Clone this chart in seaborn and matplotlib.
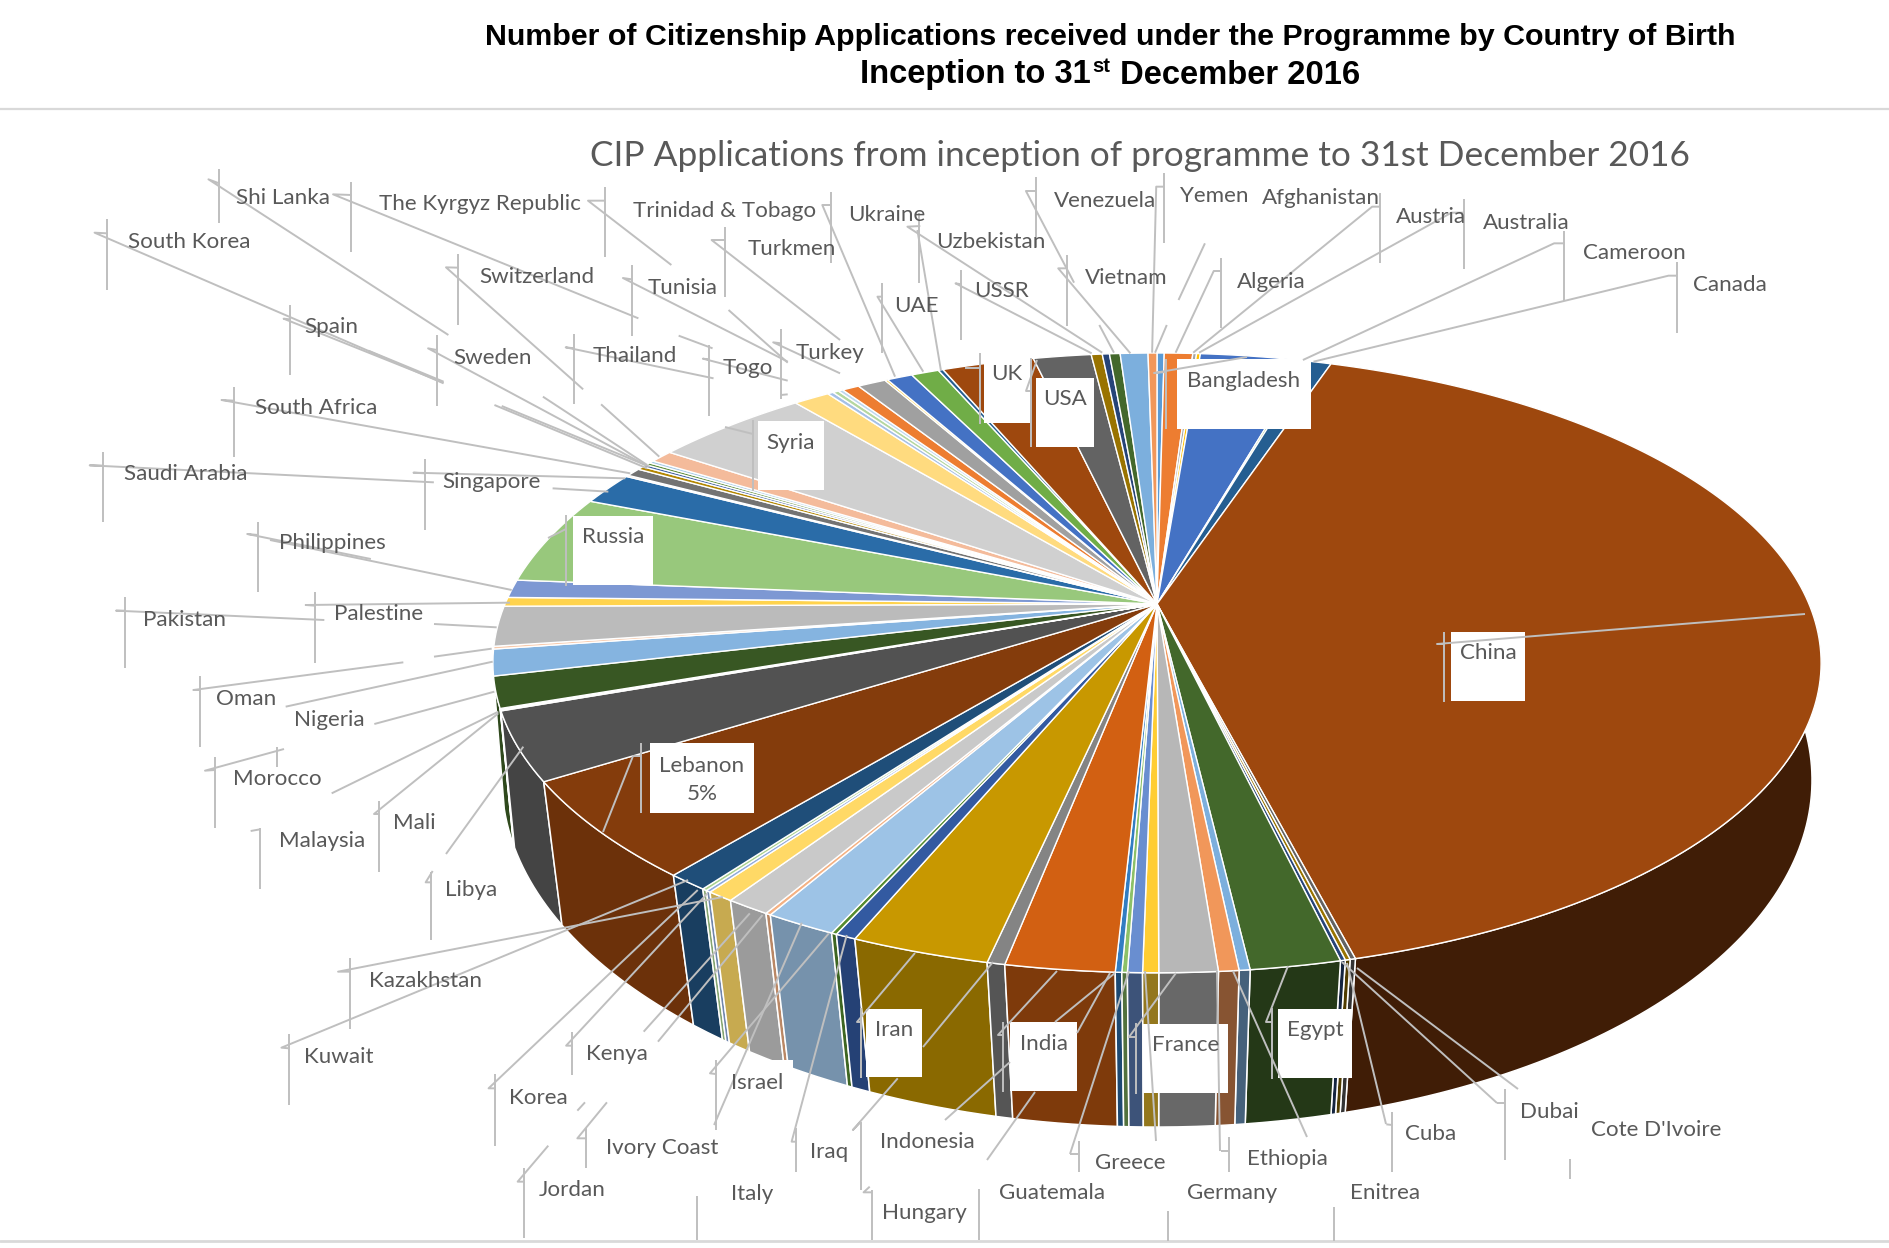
import numpy as np
import matplotlib
matplotlib.use("Agg")
import matplotlib.pyplot as plt
from matplotlib.patches import Polygon, Rectangle
import seaborn as sns

# slices clockwise from 12 o'clock, share of applications in percent
countries = ["Afghanistan", "Algeria", "Australia", "Austria", "Bangladesh", "Cameroon", "Canada", "China",
             "Cote D'Ivoire", "Cuba", "Dubai", "Egypt", "Enitrea", "Ethiopia", "France", "Germany", "Greece",
             "Guatemala", "Hungary", "India", "Indonesia", "Iran", "Iraq", "Israel", "Italy", "Ivory Coast",
             "Jordan", "Kazakhstan", "Kenya", "Korea", "Kuwait", "Lebanon", "Libya", "Malaysia", "Mali",
             "Morocco", "Nigeria", "Oman", "Pakistan", "Palestine", "Philippines", "Russia", "Saudi Arabia",
             "Shi Lanka", "Singapore", "South Africa", "South Korea", "Spain", "Sweden", "Switzerland", "Syria",
             "Thailand", "The Kyrgyz Republic", "Togo", "Trinidad & Tobago", "Tunisia", "Turkey", "Turkmen",
             "UAE", "Ukraine", "(no label)", "UK", "USA", "USSR", "Uzbekistan", "Venezuela", "Vietnam", "Yemen"]
shares = [0.21, 0.83, 0.11, 0.11, 3.11, 0.08, 0.64, 40.81,
          0.11, 0.10, 0.10, 1.83, 0.22, 0.41, 1.18, 0.32, 0.30,
          0.11, 0.13, 2.21, 0.36, 2.83, 0.42, 0.11, 1.47, 0.11,
          0.92, 0.56, 0.10, 0.10, 0.86, 5.11, 3.53, 0.06, 0.06,
          1.61, 1.36, 0.14, 2.08, 0.47, 0.94, 4.69, 1.69,
          0.08, 0.44, 0.19, 0.14, 0.14, 0.14, 0.67, 4.53,
          1.06, 0.17, 0.17, 0.14, 0.50, 0.83, 0.08,
          0.75, 0.81, 0.14, 2.69, 1.69, 0.32, 0.21, 0.31, 0.81, 0.26]
slice_colors = ["#5B9BD5", "#ED7D31", "#A5A5A5", "#FFC000", "#4472C4", "#70AD47", "#255E91", "#9E480E",
                "#636363", "#997300", "#264478", "#43682B", "#7CAFDD", "#F1975A", "#B7B7B7", "#FFCD33", "#698ED0",
                "#8CC168", "#327DC2", "#D26012", "#848484", "#C89800", "#335AA1", "#558B2F", "#9DC3E6", "#F4B183",
                "#C9C9C9", "#FFD966", "#8FAADC", "#A9D18E", "#1F4E79", "#843C0C", "#525252", "#7F6000", "#203864",
                "#385723", "#85B4E0", "#F8CBAD", "#BBBBBB", "#FFD34D", "#7D98D3", "#98C87C", "#2A6CA8",
                "#F4B183", "#737373", "#B38600", "#3F5FA0", "#5E8E3C", "#A9CCE8", "#F4BB9B", "#D0D0D0",
                "#FFDB7F", "#A5C0E6", "#B5D7A0", "#BDD7EE", "#ED7D31", "#A0A0A0", "#FFC000",
                "#4472C4", "#70AD47", "#255E91", "#9E480E", "#636363", "#997300", "#264478", "#43682B", "#7CAFDD", "#F1975A"]

main_title = "Number of Citizenship Applications received under the Programme by Country of Birth"
chart_title = "CIP Applications from inception of programme to 31st December 2016"

# labels off the pie, centres measured on the 1568 px preview
outer_labels = [("Shi Lanka", 235, 163), ("The Kyrgyz Republic", 398, 168), ("Trinidad & Tobago", 601, 173),
                ("Ukraine", 736, 177), ("Uzbekistan", 822, 199), ("Venezuela", 917, 165), ("Yemen", 1007, 161),
                ("Afghanistan", 1096, 163), ("Austria", 1187, 178), ("Australia", 1266, 183), ("Cameroon", 1356, 208),
                ("Canada", 1435, 235), ("South Korea", 157, 199), ("Switzerland", 445, 228), ("Tunisia", 566, 237),
                ("Turkmen", 657, 205), ("UAE", 760, 252), ("USSR", 831, 240), ("Vietnam", 934, 229),
                ("Algeria", 1055, 232), ("Spain", 275, 270), ("Sweden", 409, 295), ("Thailand", 527, 294),
                ("Togo", 620, 304), ("Turkey", 689, 291), ("South Africa", 262, 337), ("Saudi Arabia", 154, 392),
                ("Singapore", 408, 398), ("Philippines", 276, 449), ("Pakistan", 153, 513), ("Palestine", 314, 508),
                ("Oman", 204, 578), ("Nigeria", 273, 596), ("Morocco", 230, 645), ("Malaysia", 267, 696),
                ("Mali", 344, 681), ("Libya", 391, 737), ("Kazakhstan", 353, 812), ("Kuwait", 281, 875),
                ("Kenya", 512, 873), ("Korea", 447, 909), ("Israel", 628, 897), ("Ivory Coast", 549, 951),
                ("Jordan", 475, 986), ("Italy", 624, 989), ("Iraq", 688, 954), ("Indonesia", 769, 946),
                ("Hungary", 767, 1005), ("Guatemala", 873, 988), ("Greece", 938, 963), ("Germany", 1022, 988),
                ("Ethiopia", 1068, 960), ("Enitrea", 1149, 988), ("Cuba", 1187, 939), ("Dubai", 1285, 921),
                ("Cote D'Ivoire", 1374, 936)]
# white boxes on the pie: text, left, right, top, bottom, text y (full size px)
box_labels = [("China", 1451, 1525, 632, 701, 652), ("Lebanon\n5%", 650, 754, 743, 813, 779),
              ("Iran", 866, 922, 1009, 1077, 1029), ("India", 1010, 1077, 1022, 1091, 1043),
              ("France", 1143, 1228, 1024, 1093, 1044), ("Egypt", 1278, 1352, 1009, 1078, 1029),
              ("Syria", 758, 824, 421, 490, 442), ("Russia", 573, 653, 516, 585, 536),
              ("USA", 1036, 1094, 378, 447, 398), ("UK", 984, 1030, 353, 423, 373),
              ("Bangladesh", 1177, 1311, 359, 429, 380)]
blank_boxes = [(725, 793, 1060, 1128)]  # behind Israel

# leader lines, traced on crops: (crop x, crop y, x scale, polylines)
leader_groups = [
    (80, 160, 2.063, [
        [(287, 28), (287, 188)], [(287, 70), (265, 58), (760, 525)], [(955, 710), (1170, 915)],
        [(560, 65), (560, 275)], [(560, 105), (522, 103), (1152, 475)], [(1235, 527), (1305, 565)],
        [(1083, 80), (1083, 292)], [(1083, 122), (1048, 122), (1220, 315)], [(1338, 450), (1460, 608)],
        [(1331, 200), (1331, 410)], [(1331, 240), (1303, 240), (1568, 540)],
        [(56, 178), (56, 390)], [(56, 220), (30, 218), (750, 670)], [(855, 735), (1170, 925)], [(870, 738), (1175, 920)],
        [(433, 435), (433, 645)], [(433, 478), (420, 476), (750, 668)], [(595, 572), (750, 665)],
        [(780, 283), (780, 495)], [(780, 323), (755, 322), (1038, 688)], [(1075, 733), (1195, 890)],
        [(736, 525), (736, 737)], [(736, 570), (718, 565), (1170, 918)],
        [(1138, 315), (1138, 527)], [(1138, 358), (1120, 354), (1460, 605)],
        [(1020, 522), (1020, 733)], [(1020, 565), (1002, 562), (1307, 655)],
        [(1297, 555), (1297, 767)], [(1297, 598), (1285, 596), (1460, 662)],
        [(1446, 507), (1446, 718)], [(1446, 550), (1430, 547), (1568, 640)], [(1446, 705), (1460, 703)],
        [(318, 680), (318, 890)], [(318, 722), (292, 720), (1135, 940)],
        [(47, 875), (47, 1087)], [(47, 917), (20, 916), (730, 967)],
        [(711, 898), (711, 1110)], [(711, 940), (688, 938), (1125, 955)], [(975, 985), (1090, 995)],
        [(367, 1087), (367, 1200)], [(367, 1125), (345, 1122), (600, 1197)],
    ]),
    (800, 160, 1.704, [
        [(52, 97), (52, 308)], [(52, 135), (38, 135), (162, 650)],
        [(203, 160), (203, 370)], [(205, 198), (183, 200), (515, 578)], [(200, 210), (240, 630)],
        [(140, 370), (140, 580)], [(140, 410), (132, 410), (210, 635)],
        [(275, 330), (275, 540)], [(275, 373), (265, 370), (497, 580)],
        [(402, 52), (402, 262)], [(402, 93), (385, 93), (467, 368)],
        [(455, 285), (455, 497)], [(455, 325), (440, 325), (563, 580)], [(510, 495), (535, 578)],
        [(620, 40), (620, 250)], [(620, 80), (607, 80), (600, 578)],
        [(690, 250), (645, 420)], [(625, 495), (605, 578)],
        [(717, 293), (717, 505)], [(717, 333), (705, 333), (640, 578)],
        [(988, 100), (988, 310)], [(988, 140), (975, 140), (670, 578)],
        [(1132, 118), (1132, 328)], [(1132, 158), (1110, 158), (680, 578)],
        [(1302, 212), (1302, 422)], [(1302, 250), (1285, 250), (857, 600)],
        [(1494, 307), (1494, 518)], [(1494, 347), (1480, 347), (875, 605)],
    ]),
    (80, 540, 3, [
        [(534, 0), (534, 155)], [(570, 0), (1295, 150)],
        [(135, 170), (135, 383)], [(135, 212), (108, 212), (733, 240)],
        [(705, 155), (705, 368)], [(705, 197), (677, 195), (1290, 188)], [(1062, 252), (1250, 262)],
        [(360, 408), (360, 622)], [(360, 450), (340, 450), (970, 367)], [(1062, 350), (1235, 326)],
        [(617, 500), (1238, 365)], [(883, 552), (1243, 455)],
        [(405, 652), (405, 865)], [(405, 690), (375, 692), (612, 627)], [(591, 620), (591, 682)],
        [(755, 760), (1255, 515)],
        [(540, 865), (540, 1047)], [(540, 868), (512, 873)],
        [(897, 782), (897, 995)], [(897, 822), (882, 822), (1255, 520)],
        [(1053, 995), (1053, 1200)], [(1058, 993), (1037, 1027), (1053, 1027)], [(1098, 942), (1330, 620)],
    ]),
    (260, 900, 1.96, [
        [(335, 0), (335, 118)],
        [(176, 175), (176, 387)], [(176, 215), (153, 215), (907, -9)],
        [(57, 403), (57, 615)], [(57, 445), (42, 443), (839, -60)],
        [(612, 395), (612, 525)], [(612, 437), (600, 437), (877, -20)],
        [(461, 523), (461, 737)], [(461, 565), (448, 565), (858, -30)],
        [(752, 395), (960, 40)], [(780, 425), (985, 45)],
        [(893, 480), (893, 690)], [(893, 522), (882, 520), (1115, 100)],
        [(890, 675), (1062, 68)],
        [(622, 632), (637, 607)], [(639, 685), (639, 805)], [(639, 715), (622, 715), (680, 607)],
        [(518, 805), (518, 1015)], [(518, 845), (505, 845), (565, 737)],
        [(856, 888), (856, 1020)],
        [(1051, 685), (1051, 815)], [(1051, 725), (1042, 725), (1150, 105)],
        [(1178, 665), (1178, 870)], [(1178, 665), (1162, 690), (1250, 535)],
        [(1199, 870), (1199, 1020)], [(1199, 877), (1183, 877), (1195, 860)],
        [(1409, 868), (1409, 1020)],
    ]),
    (1000, 1000, 2.063, [
        [(162, 422), (162, 515)], [(162, 462), (145, 462)],
        [(472, 410), (472, 515)], [(472, 452), (455, 452)],
        [(347, 632), (347, 722)], [(689, 622), (689, 722)],
        [(809, 335), (809, 515)], [(809, 375), (797, 373)],
        [(1041, 268), (1041, 480)], [(1041, 308), (1025, 308)],
        [(1176, 478), (1176, 536)],
    ]),
]
# same, already in full size px
leaders_full = [
    [(1347, 963), (1386, 1124)], [(1342, 962), (1497, 1103)], [(1357, 968), (1518, 1089)],
    [(1129, 971), (1070, 1154)], [(1145, 971), (1156, 1141)], [(1233, 971), (1307, 1137)],
    [(1217, 971), (1220, 1151)], [(1110, 973), (1077, 1033)], [(1115, 973), (1055, 1022)],
    [(1444, 632), (1444, 702)], [(1444, 644), (1437, 644), (1805, 614)],
    [(861, 1008), (861, 1078)], [(861, 1022), (857, 1022), (915, 953)],
    [(1003, 1022), (1003, 1092)], [(1003, 1035), (998, 1035), (1057, 971)],
    [(1136, 1023), (1136, 1094)], [(1136, 1037), (1129, 1037), (1176, 973)],
    [(1272, 1008), (1272, 1079)], [(1272, 1022), (1266, 1022), (1288, 966)],
    [(641, 743), (641, 813)], [(641, 756), (633, 756), (603, 832)],
    [(753, 420), (753, 491)], [(753, 434), (725, 427)],
    [(566, 515), (566, 586)], [(566, 529), (548, 538)],
    [(980, 353), (980, 424)], [(980, 368), (965, 368)],
    [(1031, 358), (1031, 447)], [(1037, 360), (1026, 391), (1031, 391)],
    [(1166, 359), (1166, 429)], [(1166, 372), (1154, 373), (1247, 357)],
    [(923, 1047), (993, 962)], [(945, 1120), (1010, 1062)], [(987, 1160), (1035, 1092)],
]

SCALE = 1890 / 1568
LINE = "#BFBFBF"
TEXT = "#595959"
LABEL_SIZE = 16.1
# top face and bottom face of the disc as perspective ellipses
TOP = dict(cx=1157, cy=604, A=652, B=298.7, k=0.19)
BOTTOM = dict(cx=1157, cy=728, A=647.6, B=339.2, k=0.15)


def project(theta, face):
    u, v = np.sin(theta), np.cos(theta)
    d = 1 + face["k"] * v
    return face["cx"] + face["A"] * u / d, face["cy"] - face["B"] * v / d


def side_shade(deg):
    # side walls get lighter going clockwise round the front
    return np.interp(deg, [90, 160, 175, 187, 197, 209, 219, 230, 265],
                     [0.40, 0.50, 0.56, 0.60, 0.69, 0.76, 0.80, 0.82, 0.85])


def main():
    sns.set_theme(style="white")
    plt.rcParams["font.family"] = ["Lato", "DejaVu Sans"]
    palette = sns.color_palette(slice_colors)

    fig = plt.figure(figsize=(18.9, 12.48), dpi=100)
    ax = fig.add_axes([0, 0, 1, 1])
    ax.set_xlim(0, 1890)
    ax.set_ylim(1248, 0)
    ax.axis("off")

    edges = np.radians(np.concatenate([[0], np.cumsum(shares)]) / np.sum(shares) * 360)

    # side walls, back to front
    order = sorted(range(len(shares)), key=lambda i: -np.cos((edges[i] + edges[i + 1]) / 2))
    for i in order:
        t = np.linspace(edges[i], edges[i + 1], max(3, int((edges[i + 1] - edges[i]) * 60)))
        x1, y1 = project(t, TOP)
        x2, y2 = project(t[::-1], BOTTOM)
        shade = side_shade(np.degrees((edges[i] + edges[i + 1]) / 2))
        col = tuple(c * shade for c in palette[i])
        pts = np.column_stack([np.r_[x1, x2], np.r_[y1, y2]])
        ax.add_patch(Polygon(pts, closed=True, facecolor=col, edgecolor="white", linewidth=1.1, zorder=1))

    # top face
    for i in range(len(shares)):
        t = np.linspace(edges[i], edges[i + 1], max(3, int((edges[i + 1] - edges[i]) * 60)))
        x, y = project(t, TOP)
        pts = np.column_stack([np.r_[TOP["cx"], x], np.r_[TOP["cy"], y]])
        ax.add_patch(Polygon(pts, closed=True, facecolor=palette[i], edgecolor="white", linewidth=1.0, zorder=2))

    # white label boxes sit on the pie
    for text, left, right, top, bottom, ty in box_labels:
        ax.add_patch(Rectangle((left, top), right - left, bottom - top, facecolor="white", edgecolor="none", zorder=3))
        ax.text((left + right) / 2, ty + 1, text, ha="center", va="center", fontsize=LABEL_SIZE, color=TEXT,
                linespacing=1.5, zorder=6)
    for left, right, top, bottom in blank_boxes:
        ax.add_patch(Rectangle((left, top), right - left, bottom - top, facecolor="white", edgecolor="none", zorder=3))

    for ox, oy, sx, lines in leader_groups:
        for pl in lines:
            ax.plot([ox + p[0] / sx for p in pl], [oy + p[1] / 3 for p in pl], color=LINE, lw=1.4, zorder=4,
                    solid_capstyle="butt")
    for pl in leaders_full:
        ax.plot([p[0] for p in pl], [p[1] for p in pl], color=LINE, lw=1.4, zorder=4, solid_capstyle="butt")

    for text, x, y in outer_labels:
        ax.text(x * SCALE, y * SCALE + 2, text, ha="center", va="center", fontsize=LABEL_SIZE, color=TEXT, zorder=6)

    # headings
    ax.plot([0, 1890], [109, 109], color="#D9D9D9", lw=1.6, zorder=1)
    ax.plot([0, 1890], [1241, 1241], color="#D9D9D9", lw=2, zorder=1)
    bold = dict(family="Liberation Sans", fontweight="bold", color="black", va="center")
    ax.text(1110, 37, main_title, ha="center", fontsize=21.9, **bold)
    ax.text(1091, 75, "Inception to 31", ha="right", fontsize=23.6, **bold)
    ax.text(1092, 66, "st", ha="left", fontsize=14.5, **bold)
    ax.text(1120, 75, "December 2016", ha="left", fontsize=23.6, **bold)
    ax.text(1140, 156, chart_title, ha="center", va="center", fontsize=25.4, color=TEXT)

    fig.savefig("out.png", dpi=100)
    plt.close(fig)


if __name__ == "__main__":
    main()
